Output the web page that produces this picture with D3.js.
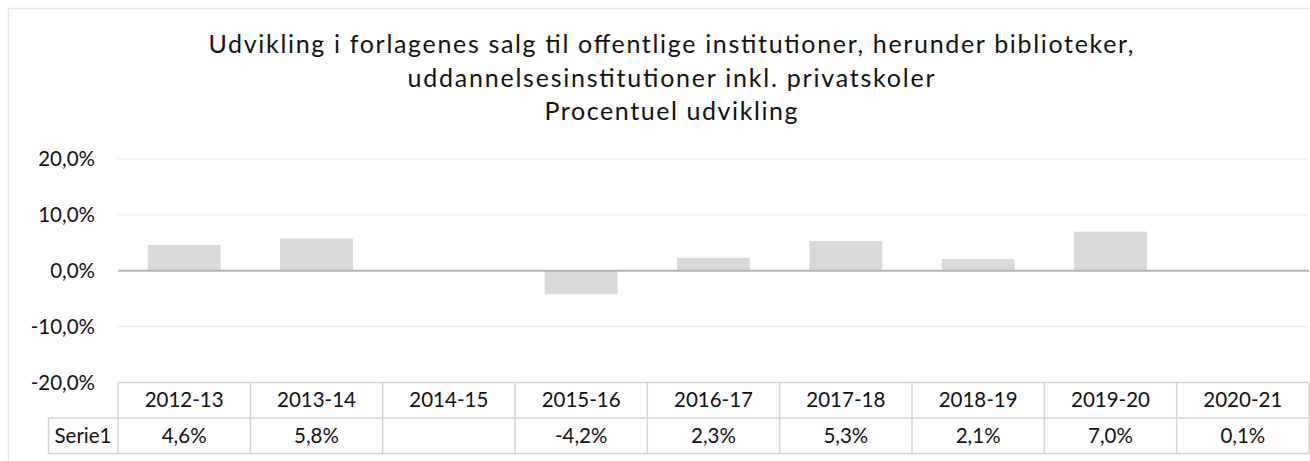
<!DOCTYPE html>
<html>
<head>
<meta charset="utf-8">
<script src="https://cdn.jsdelivr.net/npm/d3@7"></script>
<style>
  body { margin: 0; background: #fff; }
  svg text { font-family: Lato, 'Open Sans', sans-serif; fill: #111; }
</style>
</head>
<body>
<svg class="chart" width="1310" height="461"></svg>
<script>
// data
var categories = ['2012-13', '2013-14', '2014-15', '2015-16', '2016-17', '2017-18', '2018-19', '2019-20', '2020-21']
var values = [0.046, 0.058, null, -0.042, 0.023, 0.053, 0.021, 0.070, 0.001]
var seriesName = 'Serie1'
var yTicks = [-0.2, -0.1, 0, 0.1, 0.2]
var titleLines = [
  'Udvikling i forlagenes salg til offentlige institutioner, herunder biblioteker,',
  'uddannelsesinstitutioner inkl. privatskoler',
  'Procentuel udvikling'
]
var titleWidths = [925, 527, 253]

var locale = d3.formatLocale({ decimal: ',', thousands: '.', grouping: [3], currency: ['', ' kr'], minus: '-' })
var pct = locale.format('.1%')

const svg = d3.select('.chart')
const left = 118
const right = 1309
const rowTop = 382.5
const rowH = 35.5

// outer chart border (cropped on right/bottom)
svg.append('rect')
  .attr('x', 8.5).attr('y', 8.5)
  .attr('width', 1400).attr('height', 500)
  .attr('fill', 'none')
  .attr('stroke', '#e8e8e2')
  .attr('stroke-width', 1.5)

// title
svg.selectAll('.title')
  .data(titleLines)
  .enter()
  .append('text')
  .attr('class', 'title')
  .attr('x', 671)
  .attr('y', (d, i) => 53 + i * 33.5)
  .attr('text-anchor', 'middle')
  .attr('font-size', 25)
  .attr('textLength', (d, i) => titleWidths[i])
  .attr('lengthAdjust', 'spacing')
  .text(d => d)

const yScale = d3.scaleLinear().domain([-0.2, 0.2]).range([rowTop, 159])
const xScale = d3.scaleBand()
  .domain(categories)
  .range([left, right])
  .paddingInner(0.45)
  .paddingOuter(0.225)
const colScale = d3.scaleBand().domain(categories).range([left, right])

//horizontal lines
svg.append('g')
  .selectAll('line')
  .data(yTicks.filter(t => t !== 0 && t !== -0.2))
  .enter()
  .append('line')
  .attr('x1', left).attr('x2', right)
  .attr('y1', d => yScale(d)).attr('y2', d => yScale(d))
  .attr('stroke', '#ececec')
  .attr('stroke-width', 1.2)

// y labels
svg.append('g')
  .selectAll('text')
  .data(yTicks)
  .enter()
  .append('text')
  .attr('x', 95)
  .attr('y', d => yScale(d))
  .attr('dy', '0.35em')
  .attr('text-anchor', 'end')
  .attr('font-size', 20.5)
  .text(d => pct(d))

// bars
svg.append('g')
  .selectAll('rect')
  .data(categories.map((c, i) => ({ key: c, value: values[i] })).filter(d => d.value !== null))
  .enter()
  .append('rect')
  .attr('x', d => xScale(d.key))
  .attr('width', xScale.bandwidth())
  .attr('y', d => yScale(Math.max(0, d.value)))
  .attr('height', d => Math.abs(yScale(d.value) - yScale(0)))
  .attr('fill', '#d9d9d9')

// zero line
svg.append('line')
  .attr('x1', left).attr('x2', right)
  .attr('y1', yScale(0)).attr('y2', yScale(0))
  .attr('stroke', '#b3b3b3')
  .attr('stroke-width', 2)

// data table
const table = svg.append('g').attr('stroke', '#d4d4d4').attr('stroke-width', 1.5)
table.append('line').attr('x1', left).attr('x2', right).attr('y1', rowTop).attr('y2', rowTop)
table.append('line').attr('x1', 48.5).attr('x2', right).attr('y1', rowTop + rowH).attr('y2', rowTop + rowH)
table.append('line').attr('x1', 48.5).attr('x2', right).attr('y1', rowTop + 2 * rowH).attr('y2', rowTop + 2 * rowH)
table.append('line').attr('x1', 48.5).attr('x2', 48.5).attr('y1', rowTop + rowH).attr('y2', rowTop + 2 * rowH)
table.selectAll('.col')
  .data(categories.concat(['end']))
  .enter()
  .append('line')
  .attr('x1', (d, i) => left + i * colScale.bandwidth())
  .attr('x2', (d, i) => left + i * colScale.bandwidth())
  .attr('y1', rowTop).attr('y2', rowTop + 2 * rowH)

svg.append('g')
  .selectAll('text')
  .data(categories)
  .enter()
  .append('text')
  .attr('x', d => colScale(d) + colScale.bandwidth() / 2)
  .attr('y', rowTop + rowH / 2)
  .attr('dy', '0.35em')
  .attr('text-anchor', 'middle')
  .attr('font-size', 20.5)
  .text(d => d)

svg.append('g')
  .selectAll('text')
  .data(categories.map((c, i) => ({ key: c, value: values[i] })))
  .enter()
  .append('text')
  .attr('x', d => colScale(d.key) + colScale.bandwidth() / 2)
  .attr('y', rowTop + rowH * 1.5)
  .attr('dy', '0.35em')
  .attr('text-anchor', 'middle')
  .attr('font-size', 20.5)
  .text(d => d.value === null ? '' : pct(d.value))

svg.append('text')
  .attr('x', 83)
  .attr('y', rowTop + rowH * 1.5)
  .attr('dy', '0.35em')
  .attr('text-anchor', 'middle')
  .attr('font-size', 20.5)
  .text(seriesName)
</script>
</body>
</html>
